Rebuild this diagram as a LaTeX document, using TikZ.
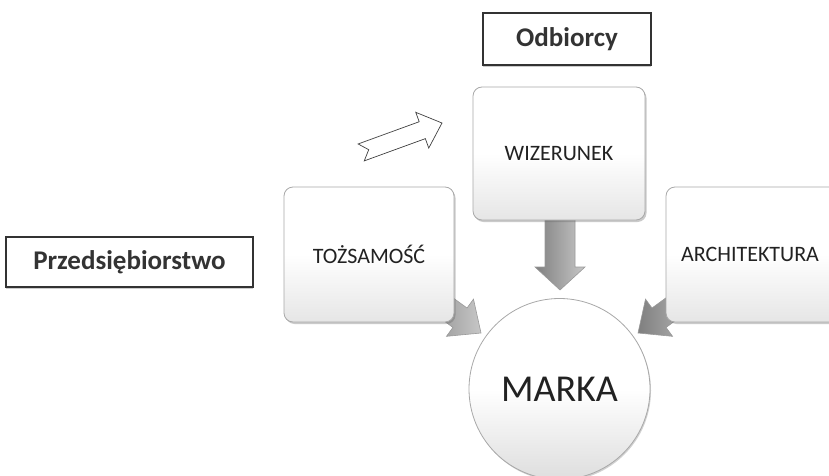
\documentclass[tikz,border=0pt]{standalone}
\usepackage{fontspec}
\setmainfont{Carlito}
\usetikzlibrary{shadows}
\definecolor{txt}{HTML}{222222}
\definecolor{bord}{HTML}{A8A8A8}
\tikzset{
  softbox/.style={rounded corners=9pt, draw=bord, line width=0.8pt,
    top color=white, bottom color=black!10, middle color=white,
    drop shadow={shadow xshift=1.5pt, shadow yshift=-2pt, opacity=0.35, fill=black!60}},
  boxtext/.style={font=\fontsize{22}{26}\selectfont, text=txt},
  labelbox/.style={draw=black!80, line width=1.2pt, fill=white,
    font=\bfseries\fontsize{27}{30}\selectfont, text=black!80,
    drop shadow={shadow xshift=0pt, shadow yshift=-2pt, opacity=0.4, fill=black!50}},
  fatarrow/.style={draw=black!40, line width=0.6pt, left color=black!50, right color=black!22},
  outarrow/.style={draw=black!75, line width=0.7pt, fill=white, line join=miter}
}
\begin{document}
\begin{tikzpicture}[x=1pt,y=-1pt]
\useasboundingbox (0,0) rectangle (829,476);

% fat arrows (drawn first so boxes cover their tails)
\begin{scope}[shift={(560,290)}, rotate=-90]
  \path[fatarrow] (0,0) -- (-23,25) -- (-23,15) -- (-72,15) -- (-72,-15) -- (-23,-15) -- (-23,-25) -- cycle;
\end{scope}
\begin{scope}[shift={(481,333)}, rotate=-36]
  \path[fatarrow] (0,0) -- (-26,23) -- (-26,12) -- (-80,12) -- (-80,-12) -- (-26,-12) -- (-26,-23) -- cycle;
\end{scope}
\begin{scope}[shift={(638,333)}, rotate=-144]
  \path[fatarrow] (0,0) -- (-26,23) -- (-26,12) -- (-80,12) -- (-80,-12) -- (-26,-12) -- (-26,-23) -- cycle;
\end{scope}

% outlined notched arrow
\begin{scope}[shift={(442,123)}, rotate=20]
  \path[outarrow] (0,0) -- (-21,19) -- (-21,9) -- (-86,9) -- (-78,0) -- (-86,-9) -- (-21,-9) -- (-21,-19) -- cycle;
\end{scope}

% rounded boxes
\node[softbox, minimum width=170pt, minimum height=135pt] (toz) at (369,254.5) {};
\node[boxtext] (toztxt) at (369,254) {TOŻSAMOŚĆ};
\node[softbox, minimum width=172pt, minimum height=133pt] (wiz) at (559,153.5) {};
\node[boxtext] (wiztxt) at (559,154) {WIZERUNEK};
\node[softbox, minimum width=172pt, minimum height=135pt] (arch) at (752,254.5) {};
\node[boxtext] (archtxt) at (750,254) {ARCHITEKTURA};

% circle
\node[circle, draw=bord, line width=0.8pt, top color=white, bottom color=black!13, middle color=white,
  minimum size=181pt, inner sep=0pt, font=\fontsize{38}{42}\selectfont, text=txt,
  drop shadow={shadow xshift=1pt, shadow yshift=-1.5pt, opacity=0.3, fill=black!60}] (marka) at (559.5,389) {MARKA};

% label boxes
\node[labelbox, minimum width=247pt, minimum height=50pt] (prz) at (129.5,262) {Przedsiębiorstwo};
\node[labelbox, minimum width=168pt, minimum height=52pt] (odb) at (567,39) {Odbiorcy};
\end{tikzpicture}
\end{document}
